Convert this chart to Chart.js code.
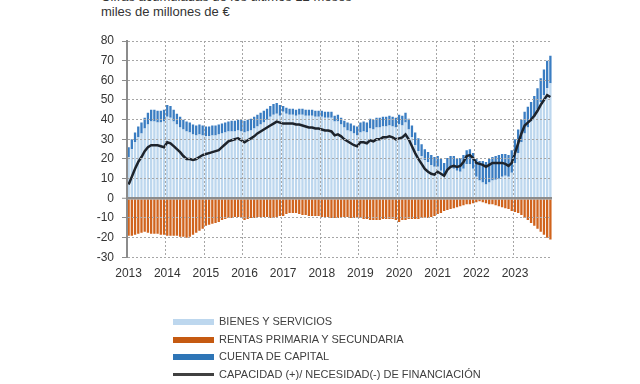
<!DOCTYPE html>
<html>
<head>
<meta charset="utf-8">
<script src="https://cdn.jsdelivr.net/npm/chart.js@4"></script>
<style>
  html, body { margin: 0; padding: 0; background: #fff; }
  body { width: 640px; height: 384px; position: relative; overflow: hidden; font-family: Arial, "Liberation Sans", sans-serif; }
  #wrap { position: absolute; left: 0; top: 0; width: 640px; height: 384px; }
  .title { position: absolute; left: 101px; font-size: 13px; line-height: 15px; color: #333; white-space: nowrap; }
  #legend { position: absolute; left: 173px; top: 313px; }
  .li { position: relative; height: 17.5px; font-size: 11px; color: #404040; white-space: nowrap; }
  .sw { position: absolute; left: 0; width: 41px; }
  .lt { position: absolute; left: 46px; top: 2px; line-height: 13px; }
</style>
</head>
<body>
<div class="title" style="top:-11px">Cifras acumuladas de los últimos 12 meses</div>
<div class="title" style="top:4px">miles de millones de €</div>
<div id="wrap"><canvas id="c" width="640" height="384"></canvas></div>
<div id="legend"></div>
<script>
const years = ['2013','2014','2015','2016','2017','2018','2019','2020','2021','2022','2023'];

const bienesServicios = [
  21, 25, 28.5, 31, 33, 35.5, 37.5, 39, 39, 38.5, 38.5, 39,
  41.5, 41, 39, 37.5, 36, 35, 34, 33.5, 32.5, 32, 32.5, 32,
  31.5, 31.5, 32, 32, 32.5, 33, 33.5, 34, 34, 34, 34.5, 34,
  33.5, 34, 34.5, 35.5, 36.5, 37.5, 38.5, 40, 41.5, 42.5, 43, 42,
  44, 43, 42.5, 42.5, 42, 42.5, 42.5, 42, 42, 42, 41.5, 41.5,
  41.5, 41, 41, 41, 39, 39, 37.5, 36, 34.5, 34, 33, 32,
  33.5, 34, 33.5, 35.5, 35, 36, 36, 36.5, 36.5, 37, 36.5, 36,
  37.5, 37, 38.5, 35, 31, 27, 24, 21.5, 19.5, 18.5, 17, 16,
  16, 14, 12, 14.5, 15.5, 15, 14, 13.5, 15, 17.5, 17.5, 15,
  11, 9, 8, 7, 8, 9, 9.5, 10, 11, 11.5, 11, 13,
  18, 23, 28.5, 33, 36, 39, 41.5, 45, 49, 52.5, 56, 58.5
];

const cuentaCapital = [
  5, 5, 5, 5.5, 5.5, 5.5, 6, 6, 6, 6, 6, 6,
  6, 6, 6, 5.5, 5.5, 5, 5, 5, 5, 5, 5, 5,
  5, 5, 5, 5, 5, 5, 5, 5, 5.5, 5.5, 5.5, 6,
  6, 6, 6, 6, 6, 6, 6, 5.5, 5.5, 5.5, 5.5, 5.5,
  3, 3, 3, 3, 3, 3, 3, 3, 3, 3, 3, 3,
  3, 3, 3, 3, 3, 3.5, 3.5, 3.5, 4, 4, 4, 4.5,
  5, 5, 5, 5, 5, 5, 5, 5, 5, 5, 5, 5,
  5, 5, 5, 5.5, 6, 6.5, 6.5, 6, 5.5, 5, 5, 5,
  5.5, 6, 6, 6, 6, 6.5, 6.5, 7, 7, 7, 7.5, 8,
  9, 10, 11, 11.5, 12, 12, 12, 12, 11.5, 11, 11, 11.5,
  12, 12, 11.5, 11, 10.5, 10, 10.5, 11, 12, 13, 14, 14
];

const rentas = [
  -19, -19, -18.5, -18, -17.5, -17, -17.5, -18, -18, -18, -18.5, -18.5,
  -19, -19, -19, -19, -19.5, -19.5, -20, -19.5, -18.5, -17.5, -16.5, -15.5,
  -14, -13.5, -13, -12.5, -12, -11, -10.5, -10, -10, -9.5, -9.5, -10,
  -11, -10.5, -10, -10, -9.5, -9.5, -9.5, -9.5, -10, -10, -9.5, -9,
  -9, -8, -7.5, -7.5, -7.5, -8, -8.5, -8.5, -9, -9, -9, -9,
  -9.5, -9.5, -9.5, -10, -10, -10, -9.5, -9.5, -9.5, -10, -10, -10,
  -10, -10.5, -10.5, -11, -11, -11, -11, -10.5, -10.5, -10.5, -10.5, -11,
  -12, -11, -11, -10.5, -10.5, -10.5, -10.5, -10, -10, -10, -9.5, -9,
  -8, -7.5, -6.5, -6, -5.5, -5, -4.5, -4, -3.5, -3, -3, -2.5,
  -2, -1.5, -2, -2.5, -3, -3, -3.5, -4, -4.5, -5, -5.5, -6.5,
  -7, -7.5, -8.5, -10, -11, -12.5, -14, -15.5, -17, -18.5, -20, -21
];

const capacidad = [
  7, 11, 15, 18.5, 21, 24, 26, 27, 27, 27, 26.5, 26,
  28.5, 28, 26.5, 25, 23.5, 21.5, 20, 20, 19.5, 20, 21, 22,
  22.5, 23, 23.5, 24, 24.5, 26, 27.5, 29, 29.5, 30, 30.5, 29.5,
  28.5, 29.5, 30.5, 31.5, 33, 34, 35, 36, 37, 38, 39, 38.5,
  38, 38, 38, 38, 37.5, 37.5, 37, 36.5, 36, 36, 35.5, 35.5,
  35, 34.5, 34.5, 34, 32, 32.5, 31.5, 30, 29, 28, 27, 26.5,
  28.5, 28.5, 28, 29.5, 29, 30, 30, 31, 31, 31.5, 31, 30,
  30.5, 31, 32.5, 30, 26.5, 23, 20, 17.5, 15, 13.5, 12.5, 12,
  13.5, 12.5, 11.5, 14.5, 16, 16.5, 16, 16.5, 18.5, 21.5, 22, 20.5,
  18, 17.5, 17, 16, 17, 18, 18, 18, 18, 17.5, 16.5, 18,
  23, 28, 33, 37, 38.5, 40, 42, 44.5, 47.5, 50, 52.5, 51.5
];

const seriesNames = ['BIENES Y SERVICIOS', 'RENTAS PRIMARIA Y SECUNDARIA', 'CUENTA DE CAPITAL', 'CAPACIDAD (+)/ NECESIDAD(-) DE FINANCIACIÓN'];
const colors = { bienes: '#bdd7ee', rentas: '#c55a11', capital: '#2e75b6', capitalBar: '#3a7dc2', rentasBar: '#d0631c', linea: '#1e242c', legendLine: '#404040' };

const labels = [];
years.forEach(y => { for (let m = 1; m <= 12; m++) labels.push(y + '-' + (m < 10 ? '0' + m : m)); });

const gridGray = '#a6a6a6';
const axisGray = '#8c8c8c';

new Chart(document.getElementById('c'), {
  type: 'bar',
  data: {
    labels: labels,
    datasets: [
      { type: 'line', label: seriesNames[3], data: capacidad, borderColor: colors.linea, borderWidth: 2.5, pointRadius: 0, fill: false, tension: 0, stack: 'linea', order: 0 },
      { label: seriesNames[0], data: bienesServicios, backgroundColor: colors.bienes, stack: 'ca', order: 1, barPercentage: 0.72, categoryPercentage: 1 },
      { label: seriesNames[2], data: cuentaCapital, backgroundColor: colors.capitalBar, stack: 'ca', order: 1, barPercentage: 0.72, categoryPercentage: 1 },
      { label: seriesNames[1], data: rentas, backgroundColor: colors.rentasBar, stack: 'ca', order: 1, barPercentage: 0.72, categoryPercentage: 1 }
    ]
  },
  options: {
    responsive: false,
    animation: false,
    events: [],
    layout: { padding: { left: 0, top: 41, right: 88, bottom: 100 } },
    plugins: { legend: { display: false }, tooltip: { enabled: false } },
    scales: {
      x: {
        stacked: true,
        afterFit: s => { s.height = 26.7; },
        grid: {
          display: true, offset: true, drawTicks: false, z: 1, lineWidth: 1,
          color: ctx => (ctx.index !== undefined && ctx.index % 12 === 0 && ctx.index > 0) ? gridGray : 'rgba(0,0,0,0)'
        },
        border: { display: false, dash: [2, 2], z: 2 },
        ticks: {
          autoSkip: false, maxRotation: 0, minRotation: 0, padding: 9,
          color: '#333', font: { family: 'Arial, "Liberation Sans", sans-serif', size: 12 },
          callback: (v, i) => (i % 12 === 0 ? years[i / 12] : '')
        }
      },
      y: {
        stacked: true,
        min: -30, max: 80,
        afterFit: s => { s.width = 127; },
        grid: {
          z: 1, drawTicks: true, tickLength: 5, tickColor: axisGray, tickWidth: 1,
          color: ctx => (ctx.tick && ctx.tick.value === 0) ? axisGray : gridGray,
          lineWidth: ctx => (ctx.tick && ctx.tick.value === 0) ? 2.5 : 1
        },
        border: {
          display: true, color: axisGray, width: 2, z: 2,
          dash: ctx => (ctx.tick && ctx.tick.value === 0) ? [] : [2, 2]
        },
        ticks: {
          stepSize: 10, padding: 8, color: '#333',
          font: { family: 'Arial, "Liberation Sans", sans-serif', size: 12 }
        }
      }
    }
  }
});

const legendItems = [
  { name: seriesNames[0], color: colors.bienes, h: 6 },
  { name: seriesNames[1], color: colors.rentas, h: 6 },
  { name: seriesNames[2], color: colors.capital, h: 6 },
  { name: seriesNames[3], color: colors.legendLine, h: 2.5 }
];
const lg = document.getElementById('legend');
legendItems.forEach(it => {
  const row = document.createElement('div'); row.className = 'li';
  const sw = document.createElement('div'); sw.className = 'sw';
  sw.style.background = it.color; sw.style.height = it.h + 'px'; sw.style.top = (9 - it.h / 2) + 'px';
  const t = document.createElement('div'); t.className = 'lt'; t.textContent = it.name;
  row.appendChild(sw); row.appendChild(t); lg.appendChild(row);
});
</script>
</body>
</html>
